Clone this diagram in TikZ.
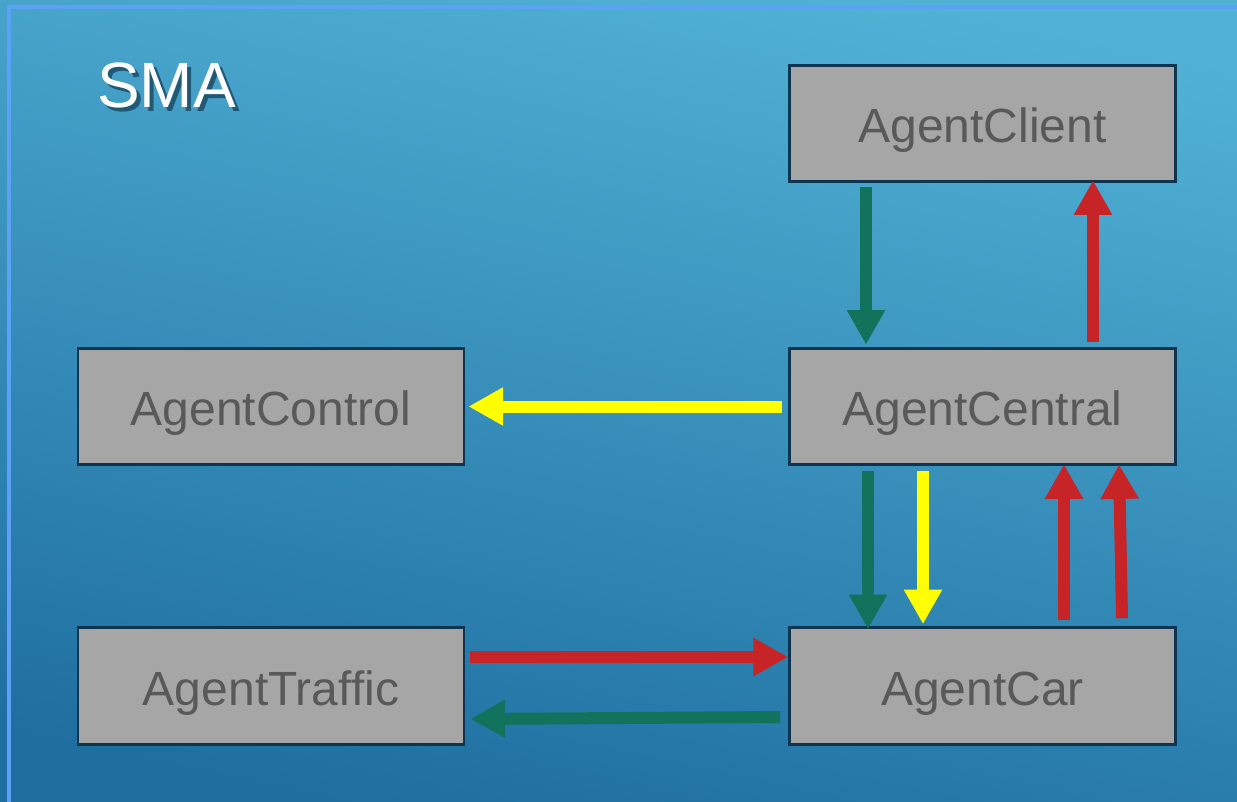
\documentclass[tikz,border=0pt]{standalone}
\usepackage{fontspec}
\setmainfont{Liberation Sans}
\usetikzlibrary{arrows.meta}
\definecolor{bgtop}{RGB}{82,178,214}
\definecolor{bgbot}{RGB}{30,110,160}
\definecolor{frameline}{RGB}{92,160,248}
\definecolor{boxfill}{RGB}{166,166,166}
\definecolor{boxline}{RGB}{14,52,80}
\definecolor{boxtext}{RGB}{89,89,89}
\definecolor{msggreen}{RGB}{18,115,92}
\definecolor{msgred}{RGB}{198,36,38}
\definecolor{msgyellow}{RGB}{255,255,0}
\definecolor{shadowcol}{RGB}{32,88,118}
\newcommand{\shadowtext}[1]{\rlap{\hspace{3pt}\raisebox{-3pt}{\textcolor{shadowcol}{#1}}}#1}
\tikzset{
  agent/.style={draw=boxline, line width=2.2pt, fill=boxfill, text=boxtext,
    minimum width=289.5pt, minimum height=87.5pt, inner sep=0pt,
    text height=29pt, text depth=0pt,
    font=\fontsize{36}{40}\selectfont},
  msg/.style={line width=9pt, -{Triangle[width=27pt,length=26pt]}},
  green msg/.style={msg, draw=msggreen},
  red msg/.style={msg, draw=msgred},
  yellow msg/.style={msg, draw=msgyellow},
}
\begin{document}
\begin{tikzpicture}[x=0.75pt,y=-0.75pt]
  \useasboundingbox (0,0) rectangle (1237,802);
  \begin{scope}
    \clip (0,0) rectangle (1237,802);
    \shade[top color=bgtop, bottom color=bgbot, shading angle=-12] (-20,-20) rectangle (1257,822);
    \draw[frameline, line width=2.4pt] (9,7) rectangle (1260,830);
  \end{scope}

  % title with drop shadow
  \node[anchor=base west, inner sep=0pt, text=white, font=\fontsize{48}{52}\selectfont]
    (title) at (97,108) {\shadowtext{SMA}};

  % agents
  \node[agent] (client)  at (982.5,123.5) {AgentClient};
  \node[agent] (control) at (271,406.5)   {AgentControl};
  \node[agent] (central) at (982.5,406.5) {AgentCentral};
  \node[agent] (traffic) at (271,686)     {AgentTraffic};
  \node[agent] (car)     at (982.5,686)   {AgentCar};

  % messages between client and central
  \draw[green msg] ([shift={(-116.5,4)}]client.south) -- ([shift={(-116.5,-2)}]central.north);
  \draw[red msg] ([shift={(110.5,-5)}]central.north) -- ([shift={(110.5,-3)}]client.south);

  % central to control
  \draw[yellow msg] ([shift={(-6,0)}]central.west) -- ([shift={(3,0)}]control.east);

  % messages between central and car
  \draw[green msg] ([shift={(-114.5,5)}]central.south) -- ([shift={(-114.5,3)}]car.north);
  \draw[yellow msg] ([shift={(-59.5,5)}]central.south) -- ([shift={(-59.5,-2)}]car.north);
  \draw[red msg] ([shift={(81.5,-6)}]car.north) -- ([shift={(81.5,-2)}]central.south);
  \draw[red msg] ([shift={(139.5,-8)}]car.north) -- ([shift={(136.5,-2)}]central.south);

  % messages between traffic and car
  \draw[red msg] ([shift={(5,-29)}]traffic.east) -- ([shift={(0,-29)}]car.west);
  \draw[green msg] ([shift={(-8,31)}]car.west) -- ([shift={(5,33)}]traffic.east);
\end{tikzpicture}
\end{document}
